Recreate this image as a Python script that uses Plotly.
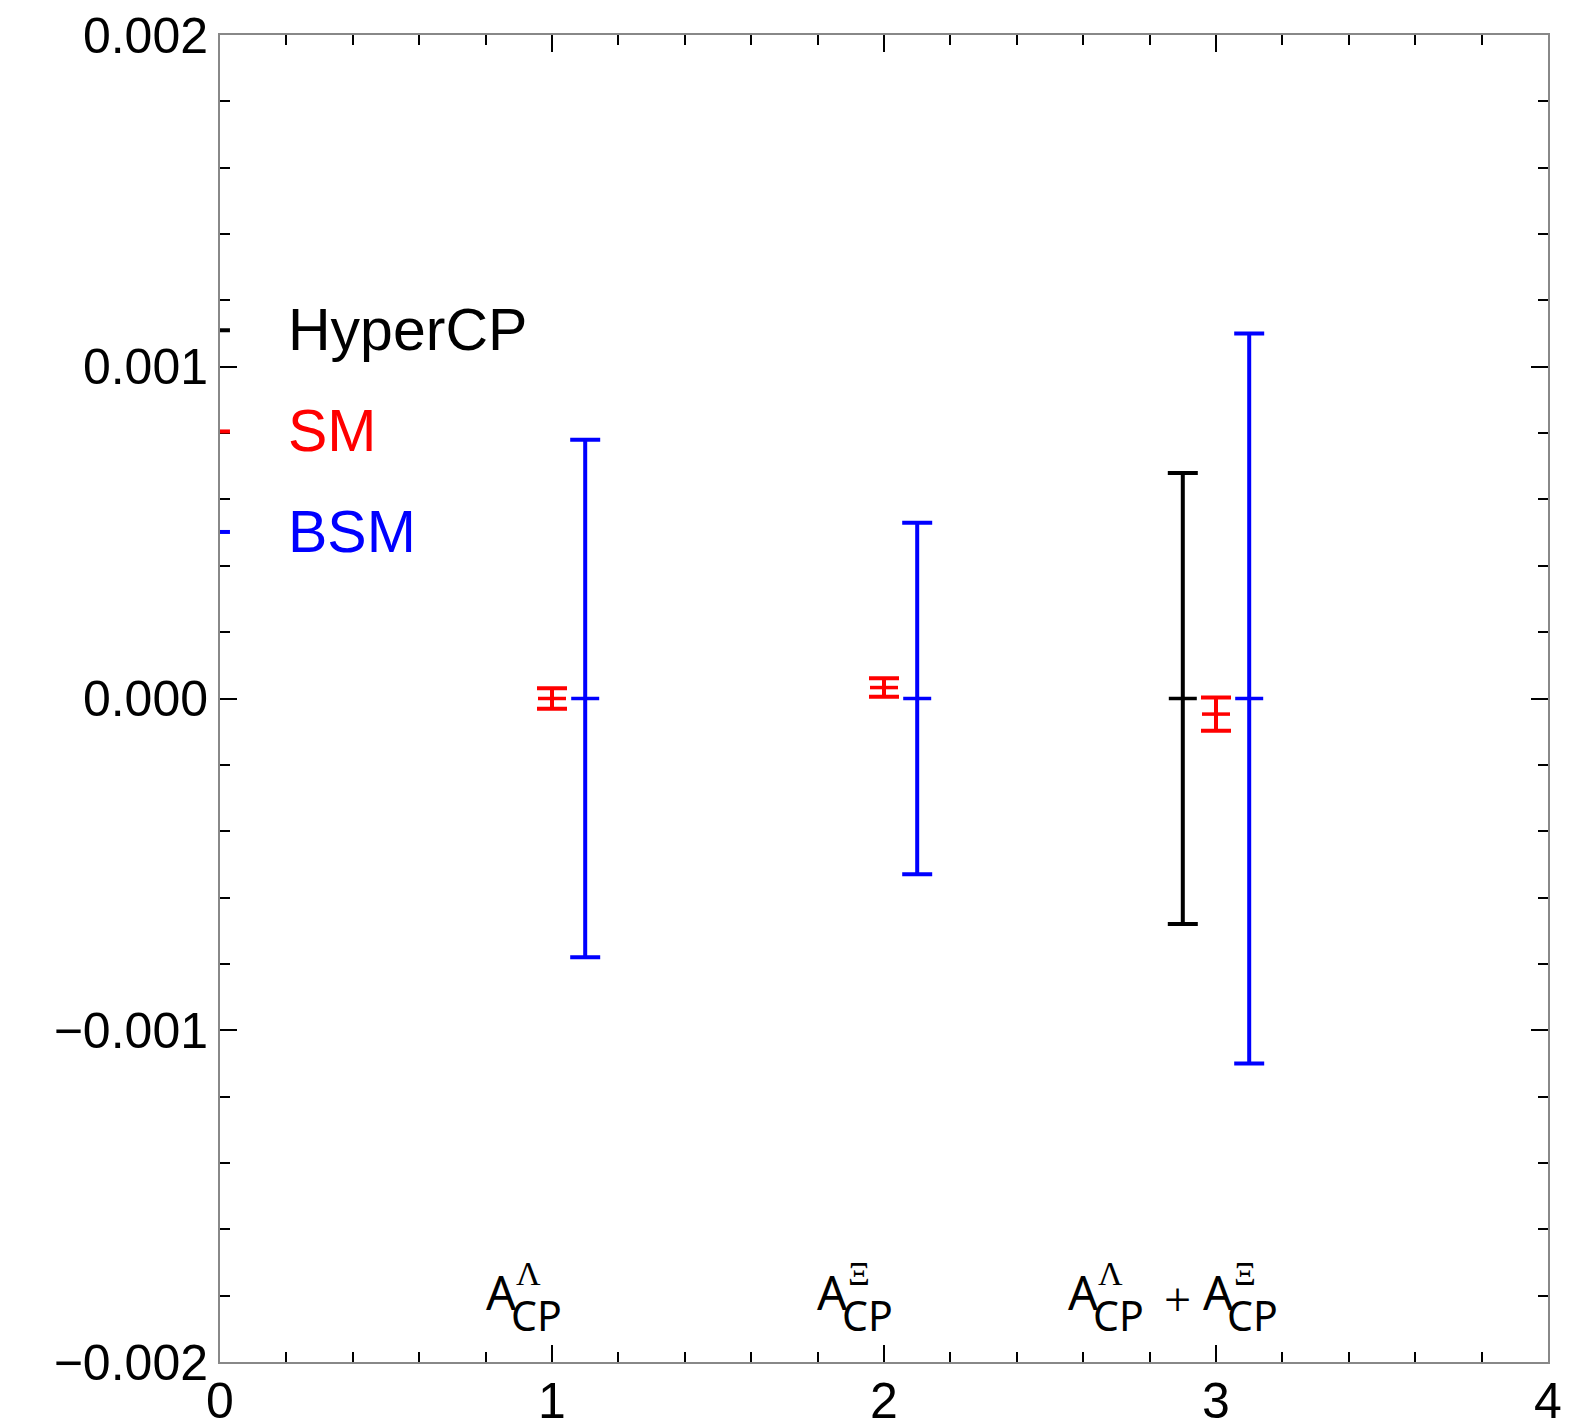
import plotly.graph_objects as go

# ---- data ----
hyper_x = [2.9]
hyper_y = [0.0]
hyper_err = [0.00068]

sm_x = [1.0, 2.0, 3.0]
sm_y = [0.0, 0.000033, -0.000047]
sm_err = [0.000031, 0.000028, 0.00005]

bsm_x = [1.1, 2.1, 3.1]
bsm_y = [0.0, 0.0, 0.0]
bsm_err = [0.00078, 0.00053, 0.0011]

legend_names = ["HyperCP", "SM", "BSM"]
legend_colors = ["black", "red", "blue"]
legend_y = [0.00111, 0.000805, 0.000502]

x_ticks = [0, 1, 2, 3, 4]
y_ticks = [-0.002, -0.001, 0.0, 0.001, 0.002]

# category labels: term centers (x), superscript symbol
terms_x = [0.913, 1.910, 2.666, 3.072]
terms_sup = ["Λ", "Ξ", "Λ", "Ξ"]
plus_x = [2.883]
label_y = -0.00179

fig = go.Figure()

def add_series(x, y, err, color, name):
    fig.add_trace(go.Scatter(
        x=x, y=y, mode="markers", name=name, showlegend=False,
        marker=dict(symbol="line-ew", size=20, color=color,
                    line=dict(color=color, width=3.5)),
        error_y=dict(type="data", array=err, visible=True,
                     color=color, thickness=4, width=15),
    ))

add_series(hyper_x, hyper_y, hyper_err, "black", "HyperCP")
add_series(sm_x, sm_y, sm_err, "red", "SM")
add_series(bsm_x, bsm_y, bsm_err, "blue", "BSM")

annotations = []
shapes = []
for name, col, yy in zip(legend_names, legend_colors, legend_y):
    annotations.append(dict(x=0.2, y=yy, xref="x", yref="y", text=name,
                            showarrow=False, xanchor="left", yanchor="middle",
                            font=dict(family="Liberation Sans, Arial", size=59, color=col)))
    shapes.append(dict(type="line", xref="x", yref="y", x0=0, x1=0.03,
                       y0=yy, y1=yy, line=dict(color=col, width=4)))

for tx, sup in zip(terms_x, terms_sup):
    annotations.append(dict(x=tx, y=label_y, xref="x", yref="y", text="A",
                            showarrow=False, xanchor="center", yanchor="middle",
                            xshift=-22, yshift=0,
                            font=dict(family="Noto Sans", size=47, color="black")))
    annotations.append(dict(x=tx, y=label_y, xref="x", yref="y", text=sup,
                            showarrow=False, xanchor="center", yanchor="middle",
                            xshift=5, yshift=19,
                            font=dict(family="Liberation Serif", size=34, color="black")))
    annotations.append(dict(x=tx, y=label_y, xref="x", yref="y", text="CP",
                            showarrow=False, xanchor="center", yanchor="middle",
                            xshift=13, yshift=-23,
                            font=dict(family="Noto Sans", size=41, color="black")))
for px in plus_x:
    annotations.append(dict(x=px, y=label_y, xref="x", yref="y", text="+",
                            showarrow=False, xanchor="center", yanchor="middle",
                            yshift=-7,
                            font=dict(family="Liberation Serif", size=48, color="black")))

axis_common = dict(
    showgrid=False, zeroline=False, showline=True, linecolor="#888888", linewidth=2,
    mirror="allticks", ticks="inside", ticklen=17, tickwidth=2, tickcolor="black",
    automargin=False,
    tickfont=dict(family="Liberation Sans, Arial", size=50, color="black"),
)

fig.update_layout(
    width=1588, height=1424,
    margin=dict(l=220, r=40, t=35, b=62),
    paper_bgcolor="white", plot_bgcolor="white",
    xaxis=dict(range=[0, 4], tickvals=x_ticks, ticktext=[str(v) for v in x_ticks],
               minor=dict(dtick=0.2, ticks="inside", ticklen=10, tickwidth=2, tickcolor="black"),
               ticklabelstandoff=-6, **axis_common),
    yaxis=dict(range=[-0.002, 0.002], tickvals=y_ticks, tickformat=".3f",
               minor=dict(dtick=0.0002, ticks="inside", ticklen=10, tickwidth=2, tickcolor="black"),
               ticklabelstandoff=0, **axis_common),
    annotations=annotations,
    shapes=shapes,
    showlegend=False,
)

fig.write_html("out.html", config={"displayModeBar": False},
               post_script="document.body.style.margin='0px';")
